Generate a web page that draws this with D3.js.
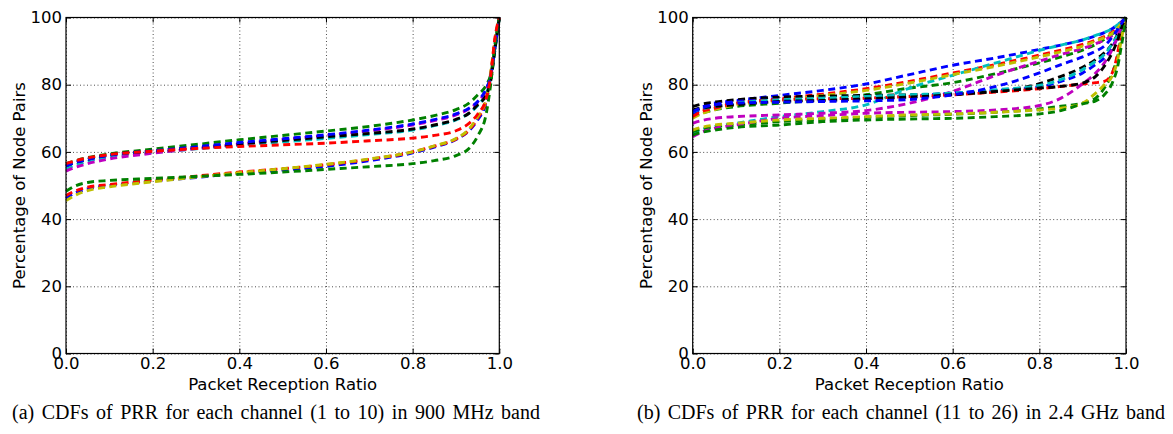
<!DOCTYPE html>
<html><head><meta charset="utf-8">
<script src="https://cdn.jsdelivr.net/npm/d3@7"></script>
<style>body{margin:0;background:#fff}svg{display:block}</style>
</head><body>
<svg id="chart" width="1173" height="434"></svg>
<script>
// ---------- data ----------
const prrGrid = [0, 0.02, 0.05, 0.1, 0.2, 0.3, 0.4, 0.5, 0.6, 0.7, 0.8, 0.85, 0.9, 0.93, 0.95, 0.97, 0.98, 0.99, 1.0];
const xTickValues = [0, 0.2, 0.4, 0.6, 0.8, 1.0];
const yTickValues = [0, 20, 40, 60, 80, 100];
const xLabel = "Packet Reception Ratio";
const yLabel = "Percentage of Node Pairs";
const captionA = "(a) CDFs of PRR for each channel (1 to 10) in 900 MHz band";
const captionB = "(b) CDFs of PRR for each channel (11 to 26) in 2.4 GHz band";
const colorCycle = ["#0000ff", "#008000", "#ff0000", "#00bfbf", "#bf00bf", "#bfbf00", "#000000"];

// 900 MHz band, channels 1..10 (percentage of node pairs with PRR <= x)
const ch01 = [46.2, 47.7, 49.0, 50.0, 51.3, 52.4, 53.6, 54.6, 55.7, 57.4, 59.7, 61.4, 63.7, 66.3, 69.5, 75.0, 82.5, 93.0, 100];
const ch02 = [56.5, 57.3, 58.3, 59.4, 60.8, 62.2, 63.6, 64.9, 66.2, 67.6, 69.5, 70.8, 72.6, 74.5, 76.9, 79.9, 83.0, 91.0, 100];
const ch03 = [47.0, 48.3, 49.5, 50.3, 51.6, 52.8, 54.0, 55.0, 56.2, 57.8, 60.0, 61.7, 63.8, 66.5, 70.0, 75.5, 83.0, 93.0, 100];
const ch04 = [55.0, 56.0, 57.2, 58.6, 59.8, 60.9, 62.0, 63.0, 64.0, 65.2, 66.5, 67.8, 69.5, 71.5, 73.8, 77.5, 81.5, 90.5, 100];
const ch05 = [54.3, 55.3, 56.5, 57.9, 59.6, 61.0, 62.3, 63.7, 64.9, 66.3, 68.0, 69.3, 71.0, 72.8, 74.8, 78.5, 82.0, 91.0, 100];
const ch06 = [45.5, 47.0, 48.5, 49.6, 51.1, 52.5, 53.8, 55.0, 56.3, 57.9, 60.0, 61.8, 64.0, 66.8, 70.5, 76.0, 83.5, 93.5, 100];
const ch07 = [55.8, 56.8, 57.8, 59.1, 60.2, 61.3, 62.4, 63.4, 64.5, 65.5, 66.8, 68.0, 69.7, 71.5, 74.0, 77.0, 81.0, 90.5, 100];
const ch08 = [55.8, 56.8, 57.8, 59.0, 60.3, 61.5, 62.8, 63.9, 65.1, 66.5, 68.3, 69.6, 71.3, 73.0, 75.0, 78.9, 82.5, 91.0, 100];
const ch09 = [48.3, 49.8, 50.9, 51.5, 52.1, 52.7, 53.3, 54.0, 54.8, 55.6, 56.5, 57.4, 58.9, 61.0, 64.7, 71.5, 80.0, 92.0, 100];
const ch10 = [56.5, 57.3, 58.2, 59.2, 60.2, 61.0, 61.6, 62.1, 62.6, 63.3, 64.1, 64.9, 66.3, 68.5, 71.2, 76.0, 82.5, 94.0, 100];

// 2.4 GHz band, channels 11..26
const ch11 = [72.0, 73.3, 74.5, 75.3, 76.8, 78.3, 80.2, 83.0, 85.8, 88.0, 90.5, 91.8, 93.3, 94.5, 95.5, 96.8, 97.8, 98.8, 100];
const ch12 = [70.5, 71.5, 72.5, 73.5, 74.5, 75.5, 77.0, 79.0, 80.6, 83.3, 86.5, 88.3, 90.3, 92.0, 93.5, 95.3, 96.5, 98.3, 100];
const ch13 = [71.0, 72.3, 73.5, 74.5, 75.8, 77.2, 78.8, 81.0, 83.5, 86.0, 88.8, 90.3, 92.0, 93.3, 94.3, 95.8, 97.0, 98.5, 100];
const ch14 = [65.5, 66.5, 67.5, 68.5, 70.5, 72.0, 74.0, 79.0, 82.8, 86.5, 90.2, 91.8, 93.3, 94.7, 95.6, 96.8, 97.8, 98.8, 100];
const ch15 = [68.5, 69.3, 70.0, 70.5, 71.0, 71.5, 72.3, 74.5, 78.0, 82.8, 87.0, 89.0, 90.8, 92.2, 93.3, 94.8, 96.0, 98.0, 100];
const ch16 = [70.0, 71.3, 72.5, 74.0, 75.3, 76.8, 78.3, 80.5, 83.0, 85.5, 88.3, 89.8, 91.5, 93.0, 94.0, 95.5, 96.8, 98.3, 100];
const ch17 = [73.5, 74.2, 74.8, 75.5, 76.3, 76.6, 76.8, 77.0, 77.3, 78.0, 80.3, 82.5, 85.2, 87.5, 89.5, 92.5, 94.8, 97.5, 100];
const ch18 = [71.5, 72.8, 74.0, 75.0, 75.5, 75.8, 76.0, 76.6, 77.5, 78.3, 79.3, 81.0, 83.5, 86.0, 88.0, 91.5, 94.0, 97.0, 100];
const ch19 = [66.0, 66.8, 67.5, 68.0, 69.0, 69.7, 70.3, 70.8, 71.2, 71.8, 72.8, 73.6, 74.5, 76.0, 79.0, 84.0, 88.0, 95.0, 100];
const ch20 = [70.5, 72.0, 73.0, 74.5, 75.5, 75.8, 76.0, 76.5, 77.0, 77.8, 78.8, 79.5, 80.2, 80.6, 81.0, 84.0, 89.0, 96.0, 100];
const ch21 = [72.0, 72.8, 73.5, 74.5, 75.5, 76.0, 76.5, 77.0, 77.5, 78.5, 79.8, 81.5, 84.5, 87.0, 89.0, 92.5, 94.5, 97.5, 100];
const ch22 = [64.5, 65.8, 67.0, 68.0, 70.0, 70.8, 71.5, 71.8, 72.0, 72.5, 73.8, 76.0, 80.3, 83.5, 86.5, 91.0, 94.0, 97.5, 100];
const ch23 = [66.5, 67.3, 68.0, 68.5, 69.5, 70.0, 70.5, 71.0, 71.3, 71.8, 72.5, 73.0, 74.5, 77.5, 80.0, 83.0, 87.0, 94.0, 100];
const ch24 = [72.5, 73.0, 73.5, 74.0, 75.0, 75.3, 75.8, 76.3, 77.0, 78.0, 79.0, 79.5, 80.5, 82.5, 85.5, 90.0, 93.0, 97.0, 100];
const ch25 = [72.0, 73.0, 74.0, 74.5, 74.8, 75.0, 75.2, 75.6, 77.0, 79.5, 83.5, 86.0, 88.3, 90.0, 91.5, 94.5, 96.3, 98.3, 100];
const ch26 = [65.0, 65.8, 66.5, 67.3, 68.0, 69.0, 69.5, 69.8, 70.0, 70.5, 71.3, 72.3, 74.3, 75.2, 77.0, 81.0, 85.0, 92.0, 100];

const band900 = [ch01, ch02, ch03, ch04, ch05, ch06, ch07, ch08, ch09, ch10];
const band24 = [ch11, ch12, ch13, ch14, ch15, ch16, ch17, ch18, ch19, ch20, ch21, ch22, ch23, ch24, ch25, ch26];

// ---------- drawing ----------
const svg = d3.select("#chart");
svg.append("rect").attr("width", 1173).attr("height", 434).attr("fill", "#fff");
const FONT = "'DejaVu Sans', sans-serif";
const TICK_FS = 16.5;
const plotTop = 17.5, plotBottom = 353.5;

function drawPanel(left, right, seriesList, caption, captionX, captionW) {
  const x = d3.scaleLinear().domain([0, 1]).range([left, right]);
  const y = d3.scaleLinear().domain([0, 100]).range([plotBottom, plotTop]);
  const g = svg.append("g");

  // grid
  const grid = g.append("g").attr("class", "grid");
  grid.append("g").attr("transform", `translate(0,${plotBottom})`)
    .call(d3.axisBottom(x).tickValues(xTickValues).tickSize(-(plotBottom - plotTop)).tickFormat(""));
  grid.append("g").attr("transform", `translate(${left},0)`)
    .call(d3.axisLeft(y).tickValues(yTickValues).tickSize(-(right - left)).tickFormat(""));
  grid.selectAll(".domain").remove();
  grid.selectAll("line").attr("stroke", "#000").attr("stroke-width", 0.7).attr("stroke-dasharray", "1,2.5");

  // curves
  const line = d3.line().x((d, i) => x(prrGrid[i])).y(d => y(d)).curve(d3.curveMonotoneX);
  seriesList.forEach((vals, i) => {
    g.append("path").datum(vals).attr("d", line)
      .attr("fill", "none").attr("stroke", colorCycle[i % colorCycle.length])
      .attr("stroke-width", 2.9).attr("stroke-dasharray", "7,4.5");
  });

  // axes (inward ticks on all sides)
  const ax = [
    g.append("g").attr("transform", `translate(0,${plotBottom})`)
      .call(d3.axisBottom(x).tickValues(xTickValues).tickSize(-5).tickPadding(4).tickFormat(d3.format(".1f"))),
    g.append("g").attr("transform", `translate(${left},0)`)
      .call(d3.axisLeft(y).tickValues(yTickValues).tickSize(-5).tickPadding(4).tickFormat(d3.format("d"))),
    g.append("g").attr("transform", `translate(0,${plotTop})`)
      .call(d3.axisTop(x).tickValues(xTickValues).tickSize(-5).tickFormat("")),
    g.append("g").attr("transform", `translate(${right},0)`)
      .call(d3.axisRight(y).tickValues(yTickValues).tickSize(-5).tickFormat(""))
  ];
  ax.forEach(a => {
    a.selectAll(".domain").remove();
    a.selectAll("line").attr("stroke", "#000").attr("stroke-width", 1);
    a.selectAll("text").attr("font-family", FONT).attr("font-size", TICK_FS).attr("fill", "#000");
  });

  // frame
  g.append("rect").attr("x", left).attr("y", plotTop).attr("width", right - left).attr("height", plotBottom - plotTop)
    .attr("fill", "none").attr("stroke", "#000").attr("stroke-width", 1.2);

  // axis labels
  g.append("text").attr("x", (left + right) / 2).attr("y", 390)
    .attr("text-anchor", "middle").attr("font-family", FONT).attr("font-size", TICK_FS).text(xLabel);
  g.append("text").attr("transform", `translate(${left - 41},${(plotTop + plotBottom) / 2}) rotate(-90)`)
    .attr("text-anchor", "middle").attr("font-family", FONT).attr("font-size", TICK_FS).text(yLabel);

  // caption (justified like a LaTeX subcaption: stretch word spacing to the target width)
  const cap = svg.append("text").attr("x", captionX).attr("y", 419)
    .attr("font-family", "'Liberation Serif', 'Times New Roman', serif").attr("font-size", 20)
    .attr("fill", "#000").text(caption);
  const natural = cap.node().getComputedTextLength();
  const spaces = (caption.match(/ /g) || []).length;
  if (natural < captionW && spaces > 0) cap.attr("word-spacing", (captionW - natural) / spaces);
}

drawPanel(66, 499.3, band900, captionA, 12, 528);
drawPanel(692.7, 1126, band24, captionB, 637, 528);
</script>
</body></html>
